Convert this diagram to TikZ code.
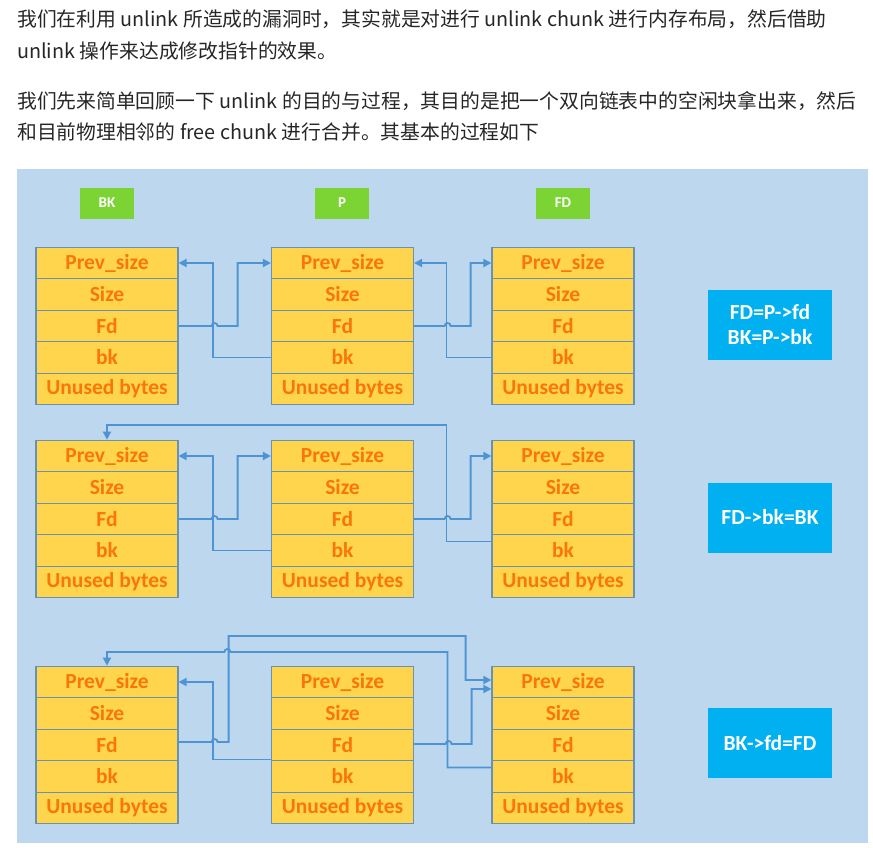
\documentclass[tikz,border=0pt]{standalone}
\usepackage{fontspec}
\usepackage{tikz}
\usepackage{xcolor}
\usetikzlibrary{arrows.meta}
\newfontfamily\cjk{Noto Sans CJK SC}
\newfontfamily\calib{Carlito}
\definecolor{panelblue}{RGB}{189,215,238}
\definecolor{chunkfill}{RGB}{255,213,77}
\definecolor{chunkline}{RGB}{105,145,180}
\definecolor{chunktext}{RGB}{250,118,8}
\definecolor{tagfill}{RGB}{124,211,52}
\definecolor{notefill}{RGB}{0,176,240}
\definecolor{linkblue}{RGB}{78,148,212}
\begin{document}
\begin{tikzpicture}[x=1pt,y=-1pt]
	 \tikzstyle{line}=[anchor=base west,inner sep=0pt,font=\cjk\fontsize{19.8}{24}\selectfont,text=black!85]
	 \tikzstyle{cell}=[rectangle,draw=chunkline,line width=1.2pt,fill=chunkfill,minimum width=142pt,minimum height=31.5pt,inner sep=0pt,text=chunktext,font=\calib\bfseries\fontsize{21.5}{22}\selectfont]
	 \tikzstyle{tag}=[rectangle,fill=tagfill,minimum width=54pt,minimum height=31pt,inner sep=0pt,text=white,font=\calib\bfseries\fontsize{15}{16}\selectfont]
	 \tikzstyle{note}=[rectangle,fill=notefill,minimum width=124pt,minimum height=70pt,inner sep=0pt,align=center,text=white,font=\calib\bfseries\fontsize{21.5}{25}\selectfont]
	 \tikzstyle{link}=[draw,line width=1.8pt,linkblue,-{Triangle[length=8pt,width=8pt]}]
	 \useasboundingbox (0,0) rectangle (873,848);
	 \fill[panelblue] (17,169) rectangle (868,843);
	 % text above the diagram
	 \node[line] (l1) at (17,27) {我们在利用 unlink 所造成的漏洞时，其实就是对进行 unlink chunk 进行内存布局，然后借助};
	 \node[line] (l2) at (17,59) {unlink 操作来达成修改指针的效果。};
	 \node[line] (l3) at (17,109) {我们先来简单回顾一下 unlink 的目的与过程，其目的是把一个双向链表中的空闲块拿出来，然后};
	 \node[line] (l4) at (17,140) {和目前物理相邻的 free chunk 进行合并。其基本的过程如下};
	 % labels
	 \node[tag] (tbk) at (107,203) {BK};
	 \node[tag] (tp) at (342,203) {P};
	 \node[tag] (tfd) at (563,203) {FD};
	 % first step
	 \node[cell] (bk1ps) at (107,263) {Prev\_size};
	 \node[cell] (bk1sz) at (107,294.5) {Size};
	 \node[cell] (bk1fd) at (107,326) {Fd};
	 \node[cell] (bk1bk) at (107,357.5) {bk};
	 \node[cell] (bk1un) at (107,389) {Unused bytes};
	 \node[cell] (p1ps) at (342.5,263) {Prev\_size};
	 \node[cell] (p1sz) at (342.5,294.5) {Size};
	 \node[cell] (p1fd) at (342.5,326) {Fd};
	 \node[cell] (p1bk) at (342.5,357.5) {bk};
	 \node[cell] (p1un) at (342.5,389) {Unused bytes};
	 \node[cell] (fd1ps) at (563,263) {Prev\_size};
	 \node[cell] (fd1sz) at (563,294.5) {Size};
	 \node[cell] (fd1fd) at (563,326) {Fd};
	 \node[cell] (fd1bk) at (563,357.5) {bk};
	 \node[cell] (fd1un) at (563,389) {Unused bytes};
	 \node[note] (n1) at (770,325) {FD=P->fd\\BK=P->bk};
	 \draw[link] (bk1fd.east) -- ++(33,0) arc[start angle=180,end angle=0,radius=3pt] -- ++(20,0) |- (p1ps.west);
	 \draw[link] (p1bk.west) -- ++(-58,0) |- (bk1ps.east);
	 \draw[link] (p1fd.east) -- ++(30.5,0) arc[start angle=180,end angle=0,radius=3pt] -- ++(20,0) |- (fd1ps.west);
	 \draw[link] (fd1bk.west) -- ++(-45,0) |- (p1ps.east);
	 % second step
	 \node[cell] (bk2ps) at (107,456) {Prev\_size};
	 \node[cell] (bk2sz) at (107,487.5) {Size};
	 \node[cell] (bk2fd) at (107,519) {Fd};
	 \node[cell] (bk2bk) at (107,550.5) {bk};
	 \node[cell] (bk2un) at (107,582) {Unused bytes};
	 \node[cell] (p2ps) at (342.5,456) {Prev\_size};
	 \node[cell] (p2sz) at (342.5,487.5) {Size};
	 \node[cell] (p2fd) at (342.5,519) {Fd};
	 \node[cell] (p2bk) at (342.5,550.5) {bk};
	 \node[cell] (p2un) at (342.5,582) {Unused bytes};
	 \node[cell] (fd2ps) at (563,456) {Prev\_size};
	 \node[cell] (fd2sz) at (563,487.5) {Size};
	 \node[cell] (fd2fd) at (563,519) {Fd};
	 \node[cell] (fd2bk) at (563,550.5) {bk};
	 \node[cell] (fd2un) at (563,582) {Unused bytes};
	 \node[note] (n2) at (770,517.5) {FD->bk=BK};
	 \draw[link] (bk2fd.east) -- ++(33,0) arc[start angle=180,end angle=0,radius=3pt] -- ++(20,0) |- (p2ps.west);
	 \draw[link] (p2bk.west) -- ++(-58,0) |- (bk2ps.east);
	 \draw[link] (p2fd.east) -- ++(30.5,0) arc[start angle=180,end angle=0,radius=3pt] -- ++(20,0) |- (fd2ps.west);
	 \draw[link] ([yshift=9pt]fd2bk.west) -- ++(-45,0) -- ++(0,-116.5) -| (bk2ps.north);
	 % third step
	 \node[cell] (bk3ps) at (107,682) {Prev\_size};
	 \node[cell] (bk3sz) at (107,713.5) {Size};
	 \node[cell] (bk3fd) at (107,745) {Fd};
	 \node[cell] (bk3bk) at (107,776.5) {bk};
	 \node[cell] (bk3un) at (107,808) {Unused bytes};
	 \node[cell] (p3ps) at (342.5,682) {Prev\_size};
	 \node[cell] (p3sz) at (342.5,713.5) {Size};
	 \node[cell] (p3fd) at (342.5,745) {Fd};
	 \node[cell] (p3bk) at (342.5,776.5) {bk};
	 \node[cell] (p3un) at (342.5,808) {Unused bytes};
	 \node[cell] (fd3ps) at (563,682) {Prev\_size};
	 \node[cell] (fd3sz) at (563,713.5) {Size};
	 \node[cell] (fd3fd) at (563,745) {Fd};
	 \node[cell] (fd3bk) at (563,776.5) {bk};
	 \node[cell] (fd3un) at (563,808) {Unused bytes};
	 \node[note] (n3) at (770,743) {BK->fd=FD};
	 \draw[link] ([yshift=3pt]bk3fd.east) -- ++(33,0) arc[start angle=180,end angle=0,radius=3pt] -- ++(11,0) -- ++(0,-106) -- ++(237,0) |- ([yshift=2pt]fd3ps.west);
	 \draw[link] ([yshift=17pt]p3bk.west) -- ++(-58,0) |- (bk3ps.east);
	 \draw[link] ([yshift=1pt]p3fd.east) -- ++(31.5,0) arc[start angle=180,end angle=0,radius=3pt] -- ++(20,0) |- ([yshift=-7pt]fd3ps.west);
	 \draw[link] ([yshift=9pt]fd3bk.west) -- ++(-44,0) -- ++(0,-115.5) -- ++(-217,0) arc[start angle=0,end angle=180,radius=3pt] -| (bk3ps.north);
\end{tikzpicture}
\end{document}
